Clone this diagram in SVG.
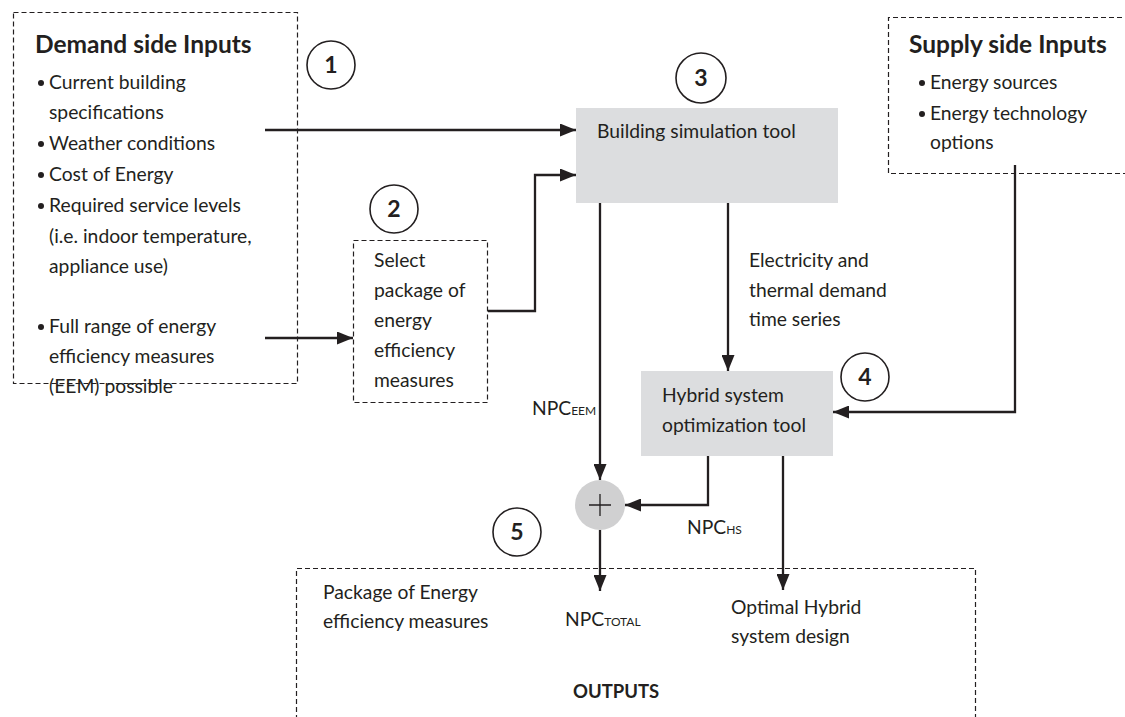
<svg xmlns="http://www.w3.org/2000/svg" width="1125" height="717" viewBox="0 0 1125 717">
<style>
text{font-family:Lato,"Open Sans","Liberation Sans",sans-serif;fill:#231f20;font-size:19.3px}
.b{font-weight:bold;font-size:18.5px}
.h{font-size:24.5px;font-weight:bold}
.n{font-size:23px;font-weight:bold}
.s{font-size:12px}
.dash{fill:none;stroke:#231f20;stroke-width:1.2;stroke-dasharray:5 3}
.tool{fill:#dcdddf}
.circ{fill:#fff;stroke:#231f20;stroke-width:1.6}
.ln{fill:none;stroke:#231f20;stroke-width:2.3}
</style>
<defs>
<marker id="ah" viewBox="0 0 16 13" refX="16" refY="6.5" markerWidth="16" markerHeight="13" markerUnits="userSpaceOnUse" orient="auto">
<path d="M0,0 L16,6.5 L0,13 Z" fill="#231f20"/>
</marker>
</defs>
<rect width="1125" height="717" fill="#fff"/>

<g id="demand">
<rect class="dash" x="13.5" y="12.5" width="284" height="371"/>
<text class="h" x="35" y="53">Demand side Inputs</text>
<g>
<circle cx="41" cy="83" r="3" fill="#231f20"/><text x="49" y="89">Current building</text>
<text x="49" y="119">specifications</text>
<circle cx="41" cy="144" r="3" fill="#231f20"/><text x="49" y="150">Weather conditions</text>
<circle cx="41" cy="175" r="3" fill="#231f20"/><text x="49" y="181">Cost of Energy</text>
<circle cx="41" cy="206" r="3" fill="#231f20"/><text x="49" y="212">Required service levels</text>
<text x="49" y="243">(i.e. indoor  temperature,</text>
<text x="49" y="273">appliance use)</text>
<circle cx="41" cy="327" r="3" fill="#231f20"/><text x="49" y="333">Full range of energy</text>
<text x="49" y="363">efficiency measures</text>
<text x="49" y="393">(EEM) possible</text>
</g>
</g>

<g id="c1"><circle class="circ" cx="331" cy="65" r="24"/><text class="n" x="331" y="73" text-anchor="middle">1</text></g>
<g id="c2"><circle class="circ" cx="394" cy="209" r="24"/><text class="n" x="394" y="217" text-anchor="middle">2</text></g>
<g id="c3"><circle class="circ" cx="701" cy="78" r="25"/><text class="n" x="701" y="86" text-anchor="middle">3</text></g>
<g id="c4"><circle class="circ" cx="865" cy="377" r="24"/><text class="n" x="865" y="385" text-anchor="middle">4</text></g>
<g id="c5"><circle class="circ" cx="517" cy="532" r="24"/><text class="n" x="517" y="540" text-anchor="middle">5</text></g>

<g id="select">
<rect class="dash" x="353.5" y="240.5" width="134" height="162"/>
<text x="374" y="267">Select</text>
<text x="374" y="297">package of</text>
<text x="374" y="327">energy</text>
<text x="374" y="357">efficiency</text>
<text x="374" y="387">measures</text>
</g>

<g id="supply">
<path class="dash" d="M1130,17.5 H888.5 V173.5 H1130"/>
<text class="h" x="909" y="53">Supply side Inputs</text>
<circle cx="922" cy="83" r="3" fill="#231f20"/><text x="930" y="89">Energy sources</text>
<circle cx="922" cy="114" r="3" fill="#231f20"/><text x="930" y="120">Energy technology</text>
<text x="930" y="149">options</text>
</g>

<g id="bst">
<rect class="tool" x="576" y="108" width="262" height="95"/>
<text x="597" y="138">Building simulation tool</text>
</g>

<g id="hybrid">
<rect class="tool" x="641" y="371" width="192" height="85"/>
<text x="662" y="402">Hybrid system</text>
<text x="662" y="432">optimization tool</text>
</g>

<g id="plus">
<circle cx="600" cy="505" r="25" fill="#d0d0d1"/>
<path d="M589,505 H611 M600,494 V516" stroke="#231f20" stroke-width="1.3"/>
</g>

<g id="outputs">
<path class="dash" d="M296.5,720 V568.5 H975.5 V720"/>
<text x="323" y="599">Package of Energy</text>
<text x="323" y="628">efficiency measures</text>
<text x="565" y="626">NPC<tspan class="s">TOTAL</tspan></text>
<text x="731" y="614">Optimal Hybrid</text>
<text x="731" y="643">system design</text>
<text class="b" x="573" y="698">OUTPUTS</text>
</g>

<g id="connectors">
<path class="ln" d="M265,130 H576" marker-end="url(#ah)"/>
<path class="ln" d="M265,338 H353" marker-end="url(#ah)"/>
<path class="ln" d="M488,311 H535 V175 H576" marker-end="url(#ah)"/>
<path class="ln" d="M600,203 V480" marker-end="url(#ah)"/>
<path class="ln" d="M728,203 V371" marker-end="url(#ah)"/>
<path class="ln" d="M1015,165 V412 H833" marker-end="url(#ah)"/>
<path class="ln" d="M708,456 V505 H625" marker-end="url(#ah)"/>
<path class="ln" d="M600,530 V591" marker-end="url(#ah)"/>
<path class="ln" d="M783,456 V590" marker-end="url(#ah)"/>
<text x="749" y="267">Electricity and</text>
<text x="749" y="297">thermal demand</text>
<text x="749" y="326">time series</text>
<text x="532" y="415">NPC<tspan class="s">EEM</tspan></text>
<text x="687" y="534">NPC<tspan class="s">HS</tspan></text>
</g>
</svg>
